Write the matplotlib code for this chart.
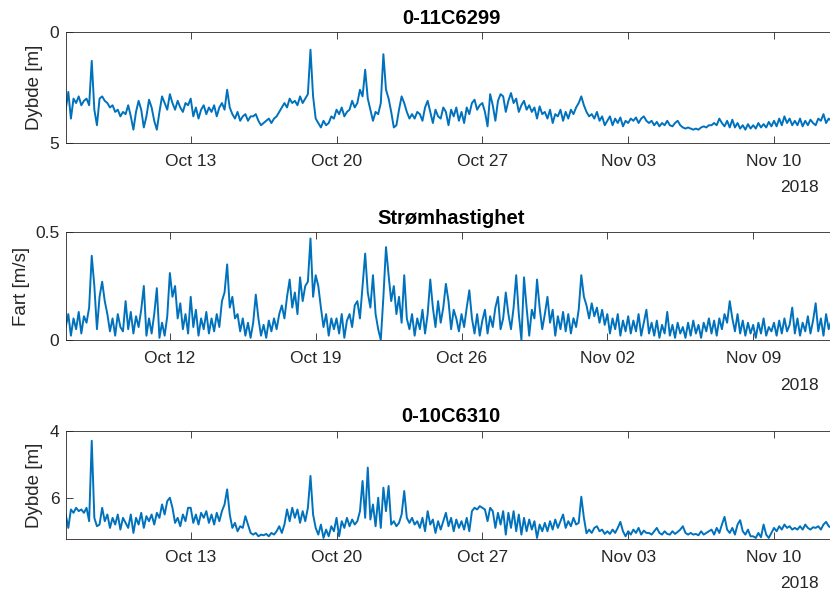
import numpy as np
import matplotlib
matplotlib.use('Agg')
import matplotlib.pyplot as plt
import matplotlib.dates as mdates

plt.rcParams['font.family'] = ['Liberation Sans', 'DejaVu Sans']

start = np.datetime64('2018-10-07T00:00')
step = np.timedelta64(3, 'h')

# 0-11C6299, depth [m], one row per day, a value every 3 h
dybde_6299 = [
    3.5, 2.7, 3.9, 3.0, 3.2, 2.9, 3.3, 3.1,
    3.0, 3.3, 1.3, 3.5, 4.2, 3.0, 2.9, 3.1,
    3.2, 3.4, 3.3, 3.6, 3.5, 3.8, 3.6, 3.7,
    3.3, 3.8, 4.4, 3.6, 3.1, 3.5, 4.3, 3.8,
    3.05, 3.4, 4.0, 4.4, 3.6, 2.9, 3.2, 3.5,
    2.8, 3.2, 3.5, 3.1, 3.4, 3.6, 3.2, 3.3,
    3.0, 3.8, 3.4, 3.9, 3.5, 3.3, 3.7, 3.4,
    3.6, 3.3, 3.8, 3.4, 3.2, 3.5, 2.6, 3.4,
    3.7, 3.9, 3.6, 4.0, 3.8, 3.7, 4.0, 3.8,
    3.8, 3.7, 4.0, 4.2, 4.1, 4.0, 3.9, 4.1,
    3.9, 3.8, 3.6, 3.4, 3.2, 3.4, 3.0, 3.2,
    3.1, 3.3, 2.9, 3.2, 3.0, 2.8, 0.8, 2.9,
    3.9, 4.1, 4.3, 4.0, 4.2, 4.1, 3.8, 3.9,
    3.5, 3.7, 3.4, 3.8, 3.6, 3.5, 3.1, 3.4,
    3.2, 2.6, 2.9, 1.7, 3.0, 3.5, 4.0, 3.6,
    3.7, 3.2, 1.0, 2.6, 3.0, 3.6, 4.3, 4.2,
    3.5, 2.9, 3.2, 3.6, 3.9, 3.7, 3.9, 3.6,
    3.7, 4.0, 3.4, 3.1, 3.6, 4.1, 3.5, 3.8,
    3.9, 3.4, 3.6, 4.2, 3.5, 3.8, 3.4, 4.0,
    3.6, 4.1, 3.4, 3.7, 3.2, 3.05, 3.5, 3.3,
    3.2, 3.6, 4.25, 2.8, 3.3, 4.0, 3.1, 2.8,
    2.9, 3.6, 3.1, 2.75, 3.2, 3.0, 3.6, 3.3,
    3.1, 3.5, 3.3, 3.6, 3.4, 3.9, 3.35, 3.7,
    3.6, 3.9, 3.5, 4.1, 3.7, 3.8, 3.5, 4.0,
    3.6, 3.9, 3.5, 3.7, 3.4, 3.2, 2.9, 3.3,
    3.6, 3.8, 3.7, 3.9, 3.6, 4.0, 3.8, 4.2,
    4.0, 3.8, 4.2, 3.9, 4.1, 3.85, 4.25, 4.0,
    4.1, 3.9, 4.0, 3.85, 4.1, 3.9, 3.8, 4.0,
    4.1, 4.0, 4.2, 4.05, 4.25, 4.1, 4.2, 4.0,
    4.2, 4.25, 4.1, 4.0, 4.2, 4.3, 4.35, 4.3,
    4.35, 4.4, 4.35, 4.4, 4.3, 4.25, 4.3, 4.2,
    4.2, 4.1, 4.2, 3.9, 4.1, 4.25, 4.0, 4.3,
    3.95, 4.3, 4.1, 4.35, 4.2, 4.4, 4.15, 4.35,
    4.2, 4.35, 4.1, 4.3, 4.15, 4.3, 4.05, 4.25,
    4.0, 4.25, 3.9, 4.2, 3.8, 4.1, 3.9, 4.2,
    4.0, 4.2, 3.9, 4.25, 4.0, 4.2, 3.95, 4.1,
    4.2, 3.9, 4.0, 3.7, 4.1, 3.9, 4.0, 3.9,
]

# current speed [m/s]
fart = [
    0.06, 0.12, 0.02, 0.10, 0.05, 0.13, 0.03, 0.11,
    0.08, 0.15, 0.39, 0.25, 0.05, 0.20, 0.27, 0.18,
    0.12, 0.04, 0.10, 0.02, 0.12, 0.06, 0.04, 0.18,
    0.05, 0.13, 0.03, 0.11, 0.06, 0.14, 0.25, 0.02,
    0.10, 0.03, 0.12, 0.24, 0.01, 0.08, 0.02, 0.11,
    0.31, 0.20, 0.25, 0.10, 0.17, 0.05, 0.12, 0.03,
    0.20, 0.06, 0.14, 0.02, 0.10, 0.05, 0.13, 0.03,
    0.10, 0.04, 0.12, 0.06, 0.18, 0.22, 0.35, 0.15,
    0.20, 0.10, 0.12, 0.04, 0.10, 0.02, 0.08, 0.01,
    0.08, 0.21, 0.10, 0.02, 0.07, 0.01, 0.09, 0.04,
    0.10, 0.05, 0.12, 0.16, 0.10, 0.20, 0.28, 0.15,
    0.22, 0.12, 0.29, 0.18, 0.25, 0.27, 0.47, 0.20,
    0.30, 0.25, 0.15, 0.06, 0.12, 0.02, 0.10, 0.05,
    0.10, 0.03, 0.12, 0.01, 0.09, 0.12, 0.06, 0.16,
    0.18, 0.10, 0.25, 0.40, 0.22, 0.15, 0.30, 0.12,
    0.05, 0.00, 0.20, 0.43, 0.30, 0.18, 0.25, 0.12,
    0.20, 0.08, 0.30, 0.10, 0.05, 0.12, 0.02, 0.10,
    0.05, 0.14, 0.03, 0.12, 0.28, 0.15, 0.06, 0.18,
    0.08, 0.15, 0.26, 0.18, 0.05, 0.14, 0.10, 0.04,
    0.12, 0.06, 0.15, 0.23, 0.10, 0.03, 0.12, 0.02,
    0.09, 0.14, 0.03, 0.11, 0.06, 0.15, 0.20, 0.05,
    0.10, 0.22, 0.12, 0.05, 0.15, 0.30, 0.12, 0.00,
    0.29, 0.15, 0.02, 0.14, 0.10, 0.28, 0.15, 0.05,
    0.12, 0.20, 0.08, 0.14, 0.02, 0.11, 0.05, 0.13,
    0.04, 0.12, 0.03, 0.10, 0.06, 0.14, 0.30, 0.20,
    0.16, 0.10, 0.17, 0.11, 0.15, 0.08, 0.14, 0.07,
    0.12, 0.03, 0.10, 0.05, 0.12, 0.02, 0.09, 0.04,
    0.11, 0.03, 0.09, 0.04, 0.12, 0.02, 0.08, 0.14,
    0.03, 0.08, 0.02, 0.09, 0.01, 0.07, 0.03, 0.13,
    0.02, 0.07, 0.01, 0.08, 0.03, 0.06, 0.01, 0.08,
    0.02, 0.09, 0.03, 0.07, 0.01, 0.08, 0.04, 0.10,
    0.03, 0.09, 0.02, 0.10, 0.05, 0.12, 0.08, 0.18,
    0.10, 0.04, 0.12, 0.03, 0.09, 0.02, 0.08, 0.03,
    0.07, 0.01, 0.08, 0.03, 0.10, 0.02, 0.06, 0.04,
    0.08, 0.02, 0.09, 0.03, 0.10, 0.04, 0.07, 0.15,
    0.03, 0.10, 0.02, 0.08, 0.04, 0.11, 0.03, 0.09,
    0.17, 0.04, 0.10, 0.02, 0.12, 0.05, 0.09, 0.03,
]

# 0-10C6310, depth [m]
dybde_6310 = [
    6.5, 6.9, 6.35, 6.45, 6.3, 6.4, 6.35, 6.45,
    6.3, 6.7, 4.3, 6.6, 6.85, 6.8, 6.3, 6.7,
    6.5, 6.9, 6.6, 6.8, 6.5, 6.95, 6.6, 6.75,
    6.9, 6.5, 7.05, 6.6, 6.8, 6.45, 6.9, 6.55,
    6.7, 6.5, 6.8, 6.45, 6.6, 6.2, 6.5, 6.1,
    6.0, 6.3, 6.75, 6.6, 6.85, 6.5, 6.7, 6.3,
    6.3, 6.75, 6.5, 6.8, 6.45, 6.6, 6.4, 6.75,
    6.5, 6.8, 6.45, 6.7, 6.4, 6.2, 5.75, 6.5,
    6.9, 6.75, 7.0, 6.85, 6.9, 6.55, 6.8, 7.05,
    7.1, 7.05, 7.15, 7.1, 7.12, 7.08, 7.15, 7.05,
    7.1, 7.0, 6.85, 7.05, 6.8, 6.35, 6.7, 6.3,
    6.6, 6.35, 6.75, 6.4, 6.7, 6.3, 5.35, 6.5,
    6.9, 7.1, 6.8, 7.2, 6.95, 7.15, 6.85, 7.0,
    6.6, 7.15, 6.7, 6.9, 6.6, 6.85, 6.65, 6.8,
    6.7, 6.4, 5.5, 6.6, 5.1, 6.65, 6.2, 6.85,
    6.0, 6.9, 5.7, 6.4, 5.65, 6.8, 6.7, 6.85,
    6.75, 6.5, 5.8, 6.6, 6.75, 6.6, 6.8, 6.7,
    6.9, 6.6, 7.0, 6.4, 6.8, 6.65, 7.05, 6.7,
    6.95, 6.7, 6.45, 6.85, 6.6, 7.0, 6.65, 6.9,
    6.7, 6.95, 6.6, 7.0, 6.4, 6.3, 6.35, 6.25,
    6.3, 6.35, 6.7, 6.3, 6.4, 6.9, 6.45, 6.8,
    6.4, 7.1, 6.45, 6.9, 6.4, 7.0, 6.5, 7.1,
    6.6, 7.0, 6.65, 6.95, 6.7, 7.2, 6.8, 7.0,
    6.75, 7.0, 6.7, 6.95, 6.65, 6.9, 6.7, 6.5,
    6.9, 6.7, 6.85, 6.6, 6.8, 6.75, 5.97, 6.6,
    7.06, 6.95, 7.05, 6.9, 6.85, 7.0, 6.95, 7.08,
    7.0, 7.08, 6.95, 7.05, 6.9, 6.72, 7.0, 7.15,
    7.0, 7.1, 6.95, 7.05, 6.9, 7.1, 6.98, 7.05,
    7.05, 7.1, 7.0, 6.9, 7.05, 7.1, 7.0, 7.08,
    7.1, 7.0, 7.08, 7.02, 6.95, 6.85, 7.05, 7.1,
    7.05, 7.1, 7.08, 7.12, 7.0, 7.1, 7.05, 7.0,
    6.95, 7.1, 6.9, 7.05, 6.8, 6.57, 6.95, 7.05,
    6.9, 7.1, 6.8, 6.67, 7.0, 7.1, 6.95, 7.15,
    7.15, 7.2, 7.05, 7.18, 6.8, 7.1, 7.2, 7.05,
    6.9, 7.0, 6.85, 6.95, 6.8, 6.9, 6.85, 6.95,
    6.9, 6.95, 6.85, 6.95, 6.8, 6.9, 6.95, 6.88,
    6.9, 6.85, 6.95, 6.8, 6.72, 6.85, 6.9, 6.8,
]

titles = ['0-11C6299', 'Strømhastighet', '0-10C6310']
ylabels = ['Dybde [m]', 'Fart [m/s]', 'Dybde [m]']
series = [dybde_6299, fart, dybde_6310]
ylims = [(5, 0), (0, 0.5), (7.24, 4)]
yticks = [[0, 5], [0, 0.5], [4, 6]]
yticklabels = [['0', '5'], ['0', '0.5'], ['4', '6']]
xticks_a = ['2018-10-13', '2018-10-20', '2018-10-27', '2018-11-03', '2018-11-10']
xticks_b = ['2018-10-12', '2018-10-19', '2018-10-26', '2018-11-02', '2018-11-09']
xticks = [xticks_a, xticks_b, xticks_a]

blue = '#0072BD'
grey = '#262626'

fig = plt.figure(figsize=(8.3, 5.92), dpi=100)
W, H = 830.0, 592.0
left, right = 65.7, 836.5
rows = [(32, 143), (232, 340), (430.7, 539.3)]
year_y = [187, 385, 583]
label_x = [-0.029, -0.046, -0.029]

for i in range(3):
    top, bot = rows[i]
    ax = fig.add_axes([left / W, 1 - bot / H, (right - left) / W, (bot - top) / H])
    t = start + np.arange(len(series[i])) * step
    ax.plot(t.astype('datetime64[m]').astype(object), series[i], color=blue, lw=1.4)
    ax.set_xlim(np.datetime64('2018-10-07').astype(object), np.datetime64('2018-11-13').astype(object))
    ax.set_ylim(*ylims[i])
    ax.set_xticks([np.datetime64(d).astype(object) for d in xticks[i]])
    ax.xaxis.set_major_formatter(mdates.DateFormatter('%b %d'))
    ax.set_yticks(yticks[i])
    ax.set_yticklabels(yticklabels[i])
    ax.tick_params(direction='in', top=True, right=True, length=5, width=0.6,
                   colors=grey, labelsize=12.5)
    ax.tick_params(axis='x', pad=8)
    ax.tick_params(axis='y', pad=4.5)
    for s in ax.spines.values():
        s.set_color(grey)
        s.set_linewidth(0.6)
    ax.set_title(titles[i], fontweight='bold', fontsize=14.5, pad=6, color='black')
    ax.set_ylabel(ylabels[i], fontsize=13.5, color=grey)
    ax.yaxis.set_label_coords(label_x[i], 0.5)
    fig.text(819 / W, 1 - year_y[i] / H, '2018', ha='right', va='center',
             fontsize=12.5, color=grey)

fig.savefig('out.png', dpi=100)
